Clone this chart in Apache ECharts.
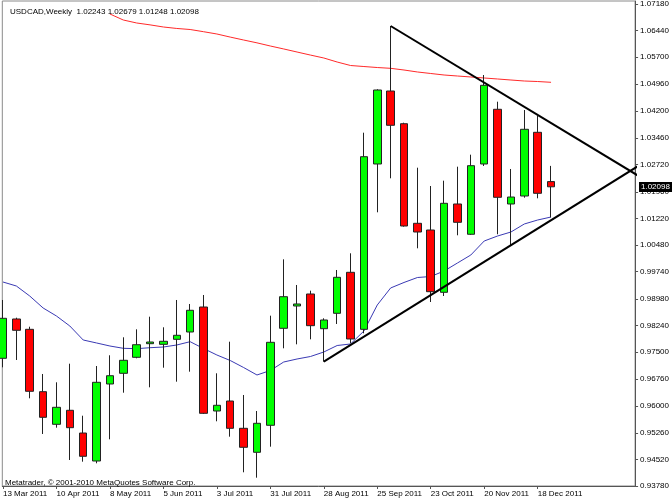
<!DOCTYPE html>
<html><head><meta charset="utf-8">
<script src="https://cdn.jsdelivr.net/npm/echarts@6/dist/echarts.min.js"></script>
<style>html,body{margin:0;padding:0;background:#fff}#c{width:672px;height:504px}</style>
</head><body><div id="c"></div>
<script>
const chartTitle = 'USDCAD,Weekly';
const copyright = 'Metatrader, \u00a9 2001-2010 MetaQuotes Software Corp.';
// week index 0 = 13 Mar 2011
const weeks = [0,1,2,3,4,5,6,7,8,9,10,11,12,13,14,15,16,17,18,19,20,21,22,23,24,25,26,27,28,29,30,31,32,33,34,35,36,37,38,39,40,41];
const opens  = [0.97330,0.98423,0.98136,0.96402,0.95495,0.95885,0.95253,0.94475,0.96616,0.96913,0.97358,0.97736,0.97719,0.97858,0.98061,0.98756,0.95865,0.96143,0.95384,0.94717,0.95468,0.98164,0.98784,0.99118,0.98153,0.98581,0.99721,0.98136,1.02732,1.04761,1.03852,1.01083,1.00897,0.99165,1.01620,1.00778,1.02732,1.04253,1.01620,1.01842,1.03613,1.02243];
const closes = [0.98442,0.98109,0.96413,0.95690,0.95968,0.95401,0.94606,0.96663,0.96846,0.97275,0.97708,0.97783,0.97803,0.97970,0.98665,0.95801,0.96024,0.95384,0.94856,0.95523,0.97775,0.99043,0.98840,0.98237,0.98395,0.99582,0.97867,1.02935,1.04789,1.03808,1.01008,1.00841,0.99182,1.01639,1.01111,1.02685,1.04920,1.01806,1.01814,1.03697,1.01917,1.02098];
const lows   = [0.97080,0.97283,0.96218,0.95226,0.95401,0.94503,0.94456,0.94411,0.95078,0.96374,0.97330,0.96524,0.97069,0.96680,0.96958,0.95782,0.95579,0.95151,0.94161,0.94011,0.94873,0.97608,0.97719,0.97858,0.97236,0.98284,0.97747,0.98025,1.01389,1.02334,1.00990,1.00388,0.98895,0.99062,1.00750,1.00760,1.02676,1.00778,1.00480,1.01795,1.01778,1.01248];
const highs  = [0.98951,0.98459,0.98209,0.96894,0.96663,0.97180,0.95734,0.97116,0.97414,0.97914,0.98136,0.98487,0.98192,0.98951,0.98840,0.99090,0.96913,0.97792,0.96310,0.95865,0.98515,1.00082,0.99368,0.99210,0.98442,0.99785,1.00249,1.03602,1.04809,1.06568,1.03880,1.02629,1.02120,1.02268,1.02657,1.02991,1.05206,1.04464,1.02593,1.04233,1.04066,1.02679];
const blueMA = [0.99451,0.99340,0.99062,0.98729,0.98506,0.98228,0.97839,0.97756,0.97672,0.97608,0.97597,0.97625,0.97644,0.97700,0.97792,0.97603,0.97422,0.97269,0.97074,0.96866,0.96991,0.97227,0.97311,0.97380,0.97505,0.97686,0.97728,0.98089,0.98812,0.99285,0.99438,0.99576,0.99604,0.99757,0.99980,1.00202,1.00591,1.00730,1.00841,1.01064,1.01175,1.01258];
const redMA  = [null,null,null,null,null,null,null,null,1.06902,1.06735,1.06652,1.06600,1.06541,1.06500,1.06471,1.06410,1.06346,1.06260,1.06179,1.06100,1.06012,1.05930,1.05845,1.05760,1.05679,1.05567,1.05470,1.05442,1.05414,1.05392,1.05345,1.05290,1.05248,1.05206,1.05178,1.05151,1.05123,1.05095,1.05067,1.05039,1.05025,1.05003];
const upperTrend = [[29, 1.06568], [47.6, 1.02389]];
const lowerTrend = [[24, 0.97236], [47.6, 1.02695]];
const xTickIdx = [0,4,8,12,16,20,24,28,32,36,40];
const xTickLabels = ['13 Mar 2011','10 Apr 2011','8 May 2011','5 Jun 2011','3 Jul 2011','31 Jul 2011','28 Aug 2011','25 Sep 2011','23 Oct 2011','20 Nov 2011','18 Dec 2011'];
const yTickLabels = ['1.07180','1.06440','1.05700','1.04960','1.04200','1.03460','1.02720','1.01960','1.01220','1.00480','0.99740','0.98980','0.98240','0.97500','0.96760','0.96000','0.95260','0.94520','0.93780'];

const FONT = "'Liberation Sans', Arial, sans-serif";
const last = weeks.length - 1;
const candleData = weeks.map((w, k) => [w, opens[k], closes[k], lows[k], highs[k]]);
const headline = chartTitle + '  ' + [opens[last], highs[last], lows[last], closes[last]].map(v => v.toFixed(5)).join(' ');

const chart = echarts.init(document.getElementById('c'), null, {renderer: 'canvas'});
chart.setOption({
  animation: false,
  backgroundColor: '#fff',
  grid: {left: 2, right: 34, top: 1, bottom: 18, show: true, borderColor: '#8a8a8a', borderWidth: 1},
  title: {text: headline, left: 5, top: 3, textStyle: {fontFamily: FONT, fontSize: 8, fontWeight: 'normal', color: '#000'}},
  xAxis: {
    type: 'value', min: -0.052, max: 47.287,
    splitLine: {show: false},
    axisLine: {show: true, onZero: false, lineStyle: {color: '#555'}},
    axisTick: {show: true, length: 3, customValues: xTickIdx, lineStyle: {color: '#555'}},
    axisLabel: {customValues: xTickIdx, align: 'left', margin: 4, fontFamily: FONT, fontSize: 8, color: '#000',
      formatter: v => xTickLabels[xTickIdx.indexOf(Math.round(v))] || ''}
  },
  yAxis: {
    type: 'value', position: 'right', min: 0.9378, max: 1.07263, scale: true,
    splitLine: {show: false},
    axisLine: {show: true, onZero: false, lineStyle: {color: '#555'}},
    axisTick: {show: true, length: 3, customValues: yTickLabels.map(Number), lineStyle: {color: '#555'}},
    axisLabel: {customValues: yTickLabels.map(Number), margin: 5, fontFamily: FONT, fontSize: 8, color: '#000',
      formatter: v => v.toFixed(5)}
  },
  series: [
    {type: 'line', data: weeks.map((w, k) => [w, redMA[k]]), showSymbol: false, symbol: 'none', connectNulls: false,
      lineStyle: {color: '#ff2a2a', width: 1}, z: 1, clip: true},
    {type: 'line', data: weeks.map((w, k) => [w, blueMA[k]]), showSymbol: false, symbol: 'none',
      lineStyle: {color: '#3a3ab4', width: 1}, z: 1, clip: true},
    {type: 'candlestick', data: candleData, encode: {x: 0, y: [1, 2, 3, 4]}, barWidth: 8, clip: true, z: 3,
      itemStyle: {color: '#00ff00', color0: '#ff0000', borderColor: '#222', borderColor0: '#222', borderWidth: 1}},
    {type: 'line', data: upperTrend, showSymbol: false, symbol: 'none', lineStyle: {color: '#000', width: 2}, z: 4, clip: true},
    {type: 'line', data: lowerTrend, showSymbol: false, symbol: 'none', lineStyle: {color: '#000', width: 2}, z: 4, clip: true}
  ]
});
// current price tag on the right axis, placed through the y scale
const priceY = chart.convertToPixel({yAxisIndex: 0}, closes[last]);
chart.setOption({
  graphic: [
    {type: 'text', left: 5, top: 479, z: 10, style: {text: copyright, font: "8px 'Liberation Sans', Arial, sans-serif", fill: '#000'}},
    {type: 'rect', shape: {x: 639, y: Math.round(priceY) - 5, width: 33, height: 10}, style: {fill: '#000'}, z: 10},
    {type: 'text', x: 641, y: Math.round(priceY), z: 11,
      style: {text: closes[last].toFixed(5), font: "8px 'Liberation Sans', Arial, sans-serif", fill: '#fff', verticalAlign: 'middle'}}
  ]
});
</script></body></html>
